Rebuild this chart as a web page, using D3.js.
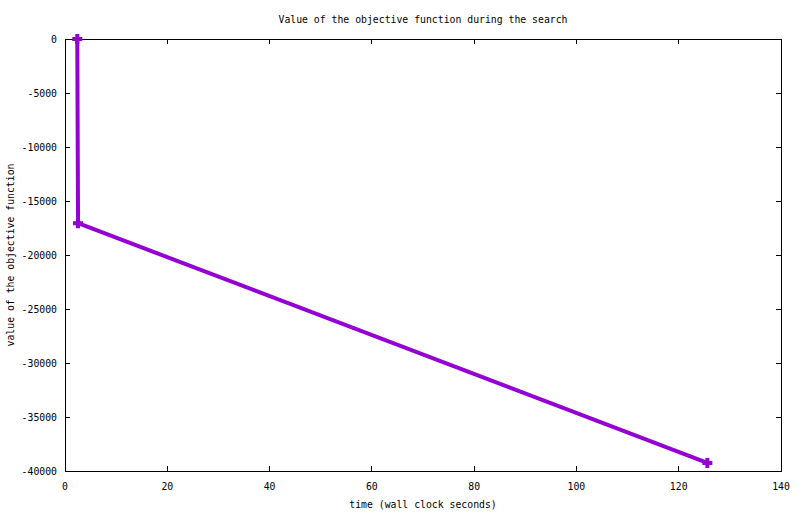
<!DOCTYPE html>
<html>
<head>
<meta charset="utf-8">
<script src="https://cdn.jsdelivr.net/npm/d3@7"></script>
<style>
  body { margin: 0; background: #fff; }
  text { font-family: "DejaVu Sans Mono", monospace; font-size: 9.8px; fill: #000; }
</style>
</head>
<body>
<div id="chart"></div>
<script>
// data
var times = [2.4, 2.55, 125.6];
var values = [0, -17050, -39250];
var xTicks = [0, 20, 40, 60, 80, 100, 120, 140];
var yTicks = [0, -5000, -10000, -15000, -20000, -25000, -30000, -35000, -40000];

var titleText = "Value of the objective function during the search";
var xLabel = "time (wall clock seconds)";
var yLabel = "value of the objective function";

var W = 800, H = 514;
var margin = {top: 39, right: 19, bottom: 43, left: 65};
var innerWidth = W - margin.left - margin.right;
var innerHeight = H - margin.top - margin.bottom;

var svg = d3.select("#chart").append("svg")
    .attr("width", W)
    .attr("height", H);

var g = svg.append("g")
    .attr("transform", "translate(" + margin.left + "," + margin.top + ")");

var xScale = d3.scaleLinear().domain([0, 140]).range([0, innerWidth]);
var yScale = d3.scaleLinear().domain([-40000, 0]).range([innerHeight, 0]);

// ticks pointing inward, mirrored on top/right like gnuplot
var tickLen = 5;
g.selectAll(".xt").data(xTicks).enter().append("path")
    .attr("d", d => "M" + xScale(d) + "," + innerHeight + "v" + (-tickLen)
                  + "M" + xScale(d) + ",0v" + tickLen)
    .attr("stroke", "#000").attr("stroke-width", 1).attr("shape-rendering", "crispEdges");
g.selectAll(".yt").data(yTicks).enter().append("path")
    .attr("d", d => "M0," + yScale(d) + "h" + tickLen
                  + "M" + innerWidth + "," + yScale(d) + "h" + (-tickLen))
    .attr("stroke", "#000").attr("stroke-width", 1).attr("shape-rendering", "crispEdges");

// tick labels
g.selectAll(".xl").data(xTicks).enter().append("text")
    .attr("x", d => xScale(d))
    .attr("y", innerHeight + 19)
    .attr("text-anchor", "middle")
    .text(d => d);
g.selectAll(".yl").data(yTicks).enter().append("text")
    .attr("x", -8)
    .attr("y", d => yScale(d) + 4)
    .attr("text-anchor", "end")
    .text(d => d);

// border
g.append("rect")
    .attr("x", 0).attr("y", 0)
    .attr("width", innerWidth).attr("height", innerHeight)
    .attr("fill", "none").attr("stroke", "#000").attr("stroke-width", 1)
    .attr("shape-rendering", "crispEdges");

// series
var pts = times.map((t, i) => [t, values[i]]);
var line = d3.line().x(d => xScale(d[0])).y(d => yScale(d[1]));
g.append("path").datum(pts)
    .attr("d", line)
    .attr("fill", "none")
    .attr("stroke", "#9400d3")
    .attr("stroke-width", 4)
    .attr("stroke-linejoin", "miter");

g.selectAll(".pt").data(pts).enter().append("path")
    .attr("d", d => {
        var cx = xScale(d[0]), cy = yScale(d[1]);
        return "M" + (cx - 5) + "," + cy + "h10M" + cx + "," + (cy - 5) + "v10";
    })
    .attr("stroke", "#9400d3")
    .attr("stroke-width", 4)
    .attr("fill", "none");

// titles
svg.append("text")
    .attr("x", margin.left + innerWidth / 2)
    .attr("y", 23)
    .attr("text-anchor", "middle")
    .text(titleText);
svg.append("text")
    .attr("x", margin.left + innerWidth / 2)
    .attr("y", 508)
    .attr("text-anchor", "middle")
    .text(xLabel);
svg.append("text")
    .attr("transform", "translate(14," + (margin.top + innerHeight / 2) + ") rotate(-90)")
    .attr("text-anchor", "middle")
    .text(yLabel);
</script>
</body>
</html>
